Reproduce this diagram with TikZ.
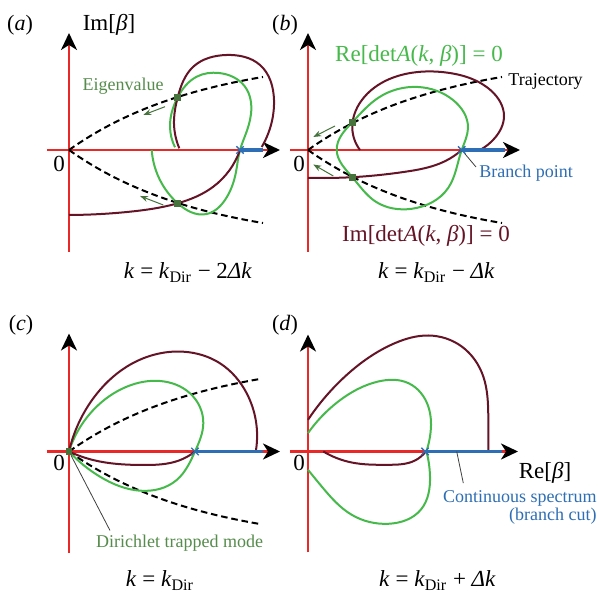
\documentclass[tikz,border=0pt]{standalone}
\usepackage{fontspec}
\setmainfont{Liberation Serif}
\usepackage{tikz}
\usetikzlibrary{arrows.meta, shapes.misc, hobby}
\definecolor{maroon}{RGB}{100,20,38}
\definecolor{regreen}{RGB}{70,185,75}
\definecolor{eigreen}{RGB}{70,115,60}
\definecolor{labgreen}{RGB}{85,140,75}
\definecolor{cutblue}{RGB}{45,110,180}
\definecolor{axred}{RGB}{235,40,40}

\begin{document}
\begin{tikzpicture}[x=0.5pt,y=0.5pt,use Hobby shortcut,
    axis/.style={axred,line width=1.2pt,-{Stealth[black,length=8.5pt,width=8pt,inset=2.5pt]}},
    recurve/.style={regreen,line width=1pt},
    imcurve/.style={maroon,line width=1pt},
    traj/.style={black,line width=1pt,dash pattern=on 3.3pt off 1.9pt},
    cut/.style={cutblue,line width=1.6pt},
    eig/.style={fill=eigreen,minimum size=3.4pt,inner sep=0pt},
    bpx/.style={cross out,draw=cutblue,line width=0.7pt,minimum size=3pt,inner sep=0pt},
    move/.style={eigreen,line width=0.5pt,-{Stealth[length=4pt,width=3pt]}},
    lead/.style={black!75,line width=0.4pt},
    big/.style={font=\fontsize{11.5}{13}\selectfont},
    small/.style={font=\fontsize{9}{9.4}\selectfont,inner sep=0pt},
    panel/.style={font=\fontsize{11}{13}\selectfont}]
  \fill[white] (0,0) rectangle (599,593);
  \useasboundingbox (0,0) rectangle (599,593);

  % (a)
  \begin{scope}[shift={(69,443)}]
    \draw[axis] (-22,0) -- (211,0);
    \draw[axis] (0,-102) -- (0,117);
    \draw[traj] plot[domain=0:194,samples=40] (\x,{95.8*(1-exp(-\x/135))});
    \draw[traj] plot[domain=0:194,samples=40] (\x,{-95.8*(1-exp(-\x/135))});
    \draw[recurve] (82.7,0) .. (92.7,-33.3) .. (108.7,-53.3) .. (137.7,-64) .. (156,-50) .. (167,-22) .. (171,0) .. (176,14) .. (182,36) .. (176,63.3) .. (150,77) .. (127.7,73.3) .. (108.7,52.7) .. (101,23.3) .. (106,2.7);
    \draw[imcurve] (0,-65) .. (61,-61.7) .. (108.7,-53.3) .. (144.3,-36.7) .. (171,0);
    \draw[imcurve] (110.3,1.7) .. (105,30) .. (108.7,52.7) .. (124.3,83.3) .. (157.7,95) .. (191,85) .. (205,50) .. (199.3,16.7) .. (192.7,3);
    \draw[cut] (171,0) -- (194,0);
    \node[bpx] (bpa) at (171,0) {};
    \node[eig] (ea1) at (108.7,52.7) {};
    \node[eig] (ea2) at (108.7,-53.3) {};
    \draw[move] (96,43.3) -- (74.3,35);
    \draw[move] (94.3,-55) -- (71,-46);
    \node[small,text=labgreen] (eiglabel) at (54,64) {Eigenvalue};
    \node[big] (zeroa) at (-10,-14) {0};
  \end{scope}
  \node[panel] (pa) at (20,568) {(\textit{a})};
  \node[big] (imlabel) at (109,568) {Im[\textit{β}]};

  % (b)
  \begin{scope}[shift={(308,443)}]
    \draw[axis] (-18,0) -- (212,0);
    \draw[axis] (0,-102) -- (0,117);
    \draw[traj] plot[domain=0:194,samples=40] (\x,{95.8*(1-exp(-\x/135))});
    \draw[traj] plot[domain=0:194,samples=40] (\x,{-95.8*(1-exp(-\x/135))});
    \draw[recurve,closed] (28.7,0) .. (44.3,27.8) .. (70.3,52.2) .. (110,63) .. (145,50) .. (160,22) .. (153.7,0) .. (140.3,-37.8) .. (103.7,-58.8) .. (67,-51.2) .. (44.3,-27.2);
    \draw[imcurve] (52,0) .. (44.3,22) .. (57,53.8) .. (103.7,77.2) .. (140.3,77.2) .. (183.7,58.8) .. (196,34) .. (187,12.2) .. (172,0);
    \draw[imcurve] (0,-27.8) .. (44.3,-27.2) .. (97,-21.8) .. (137,-11.2) .. (153.7,0);
    \draw[cut] (153.7,0) -- (197,0);
    \node[bpx] (bpb) at (153.7,0) {};
    \node[eig] (eb1) at (44.3,27.8) {};
    \node[eig] (eb2) at (44.3,-27.2) {};
    \draw[move] (27,24) -- (5.3,13);
    \draw[move] (25.3,-26) -- (5.3,-14.5);
    \coordinate (bpend) at (168,-17);
    \draw[lead] (bpb) -- (bpend);
    \node[small,text=cutblue,anchor=west] (bplabel) at (171,-23) {Branch point};
    \node[small,anchor=west] (trlabel) at (200,69) {Trajectory};
    \node[big,text=regreen] (relabel) at (111,94) {Re[det\textit{A}(\textit{k}, \textit{β})] = 0};
    \node[big,text=maroon] (imdlabel) at (118,-86) {Im[det\textit{A}(\textit{k}, \textit{β})] = 0};
    \node[big] (zerob) at (-9,-14) {0};
  \end{scope}
  \node[panel] (pb) at (285,568) {(\textit{b})};

  % (c)
  \begin{scope}[shift={(69,141.5)}]
    \draw[axis] (-22,0) -- (211,0);
    \draw[axis] (0,-101.5) -- (0,118);
    \draw[traj] plot[domain=0:191,samples=40] (\x,{95.8*(1-exp(-\x/135))});
    \draw[traj] plot[domain=0:191,samples=40] (\x,{-95.8*(1-exp(-\x/135))});
    \draw[recurve] (0,0) .. (24.3,41.5) .. (57.7,64.8) .. (91,70.5) .. (121,58.2) .. (134.3,28.2) .. (126,0) .. (107.7,-28.5) .. (71,-39.2) .. (31,-25.2) .. (0,0);
    \draw[imcurve] (0,0) .. (24.3,53.2) .. (57.7,84.8) .. (114.3,99.8) .. (151,88.2) .. (177.7,58.2) .. (187,1.5);
    \draw[imcurve] (0,0) .. (24,-8.5) .. (74,-13.5) .. (110,-9) .. (126,0);
    \draw[cut] (126,0) -- (194,0);
    \node[bpx] (bpc) at (126,0) {};
    \node[eig] (ec) at (0,0) {};
    \coordinate (dtmend) at (41,-79);
    \draw[lead] (ec) -- (dtmend);
    \node[small,text=labgreen] (dtmlabel) at (110.5,-91.5) {Dirichlet trapped mode};
    \node[big] (zeroc) at (-10,-11.5) {0};
  \end{scope}
  \node[panel] (pc) at (21,268) {(\textit{c})};

  % (d)
  \begin{scope}[shift={(308,141.5)}]
    \draw[axis] (-18,0) -- (210,0);
    \draw[axis] (0,-101) -- (0,117);
    \draw[imcurve] (0,31.7) .. (37,75) .. (87,108.4) .. (120.3,116) .. (153.7,105) .. (175.3,75) .. (180.3,35) .. (180.3,1);
    \draw[imcurve] (15.3,0) .. (43.7,-11) .. (80,-13.3) .. (107,-9) .. (117.7,0);
    \draw[recurve] (0,18.4) .. (30.3,50) .. (70.3,70) .. (100.3,68.4) .. (120.3,45) .. (122,15) .. (118.7,1);
    \draw[recurve] (118.7,-1) .. (122,-25) .. (113,-58) .. (80.3,-72.3) .. (43.7,-63.3) .. (13.7,-35) .. (0,-18.3);
    \draw[cut] (117,0) -- (194,0);
    \node[bpx] (bpd) at (117,0) {};
    \coordinate (cutpt) at (148.7,0);
    \coordinate (csend) at (155.3,-31.6);
    \draw[lead] (cutpt) -- (csend);
    \node[small,text=cutblue,anchor=east,align=right] (cslabel) at (289,-56) {Continuous spectrum\\(branch cut)};
    \node[big] (relabel2) at (237,-21.5) {Re[\textit{β}]};
    \node[big] (zerod) at (-9,-11.5) {0};
  \end{scope}
  \node[panel] (pd) at (285,268) {(\textit{d})};

  % k values
  \node[big,anchor=base] (ka) at (188,314) {\textit{k} = \textit{k}\textsubscript{Dir} − 2\textit{Δk}};
  \node[big,anchor=base] (kb) at (436.5,314) {\textit{k} = \textit{k}\textsubscript{Dir} − \textit{Δk}};
  \node[big,anchor=base] (kc) at (160,6) {\textit{k} = \textit{k}\textsubscript{Dir}};
  \node[big,anchor=base] (kd) at (437.5,6) {\textit{k} = \textit{k}\textsubscript{Dir} + \textit{Δk}};
\end{tikzpicture}
\end{document}
